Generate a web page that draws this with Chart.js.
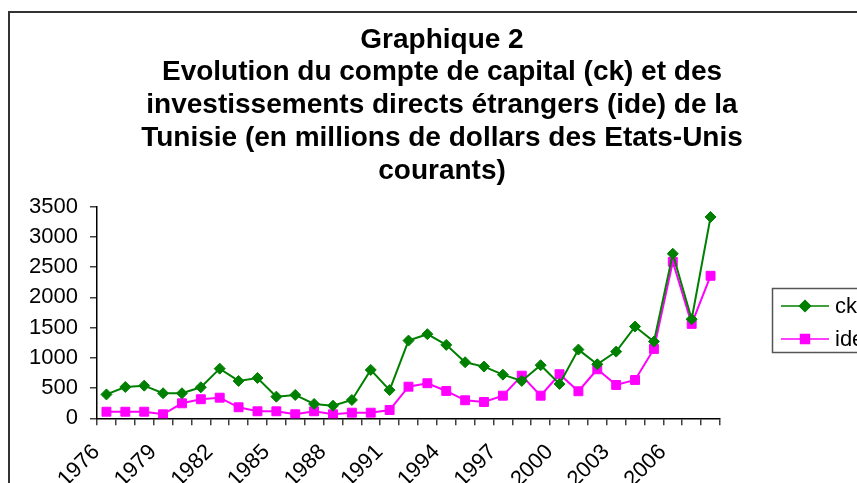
<!DOCTYPE html>
<html>
<head>
<meta charset="utf-8">
<script src="https://cdn.jsdelivr.net/npm/chart.js@4/dist/chart.umd.min.js"></script>
<style>
  html, body { margin: 0; padding: 0; background: #fff; overflow: hidden; }
  #wrap { position: relative; width: 857px; height: 483px; }
  #frame { position: absolute; left: 8px; top: 11px; width: 900px; height: 500px;
           border-left: 2px solid #333; border-top: 2px solid #333; pointer-events: none; }
  canvas { position: absolute; left: 0; top: 0; }
</style>
</head>
<body>
<div id="wrap">
  <canvas id="c" width="857" height="483"></canvas>
  <div id="frame"></div>
</div>
<script>
const years = [1976,1977,1978,1979,1980,1981,1982,1983,1984,1985,1986,1987,1988,1989,1990,1991,
               1992,1993,1994,1995,1996,1997,1998,1999,2000,2001,2002,2003,2004,2005,2006,2007,2008];
const ck = [395,518,540,414,414,513,821,618,667,358,386,237,209,303,800,466,
            1285,1391,1214,927,855,722,618,878,568,1136,894,1103,1517,1268,2721,1639,3329];
const ide = [109,109,109,66,248,315,341,182,116,116,66,116,66,93,93,137,
             523,580,452,298,270,374,705,374,729,447,811,551,634,1147,2588,1561,2357];
const titleLines = [
  "Graphique 2",
  "Evolution du compte de capital (ck) et des",
  "investissements directs étrangers (ide) de la",
  "Tunisie (en millions de dollars des Etats-Unis",
  "courants)"
];
const seriesNames = ["ck", "ide"];
const yTicks = [0,500,1000,1500,2000,2500,3000,3500];

const FONT = "'Liberation Sans', Arial, Helvetica, sans-serif";

const legendPlugin = {
  id: 'boxLegend',
  afterDraw(chart) {
    const ctx = chart.ctx;
    ctx.save();
    ctx.strokeStyle = '#555';
    ctx.lineWidth = 1.5;
    ctx.strokeRect(772.5, 288.5, 120, 64);
    chart.data.datasets.forEach((ds, i) => {
      const y = 306 + i * 33;
      ctx.strokeStyle = ds.borderColor;
      ctx.lineWidth = 1.5;
      ctx.beginPath(); ctx.moveTo(781, y); ctx.lineTo(829, y); ctx.stroke();
      Chart.helpers.drawPoint(ctx, {pointStyle: ds.pointStyle, radius: ds.pointRadius, borderWidth: 1}, 805, y);
      ctx.fillStyle = ds.borderColor;
      ctx.fill();
      ctx.fillStyle = '#000';
      ctx.font = "22px " + FONT;
      ctx.textBaseline = 'middle';
      ctx.textAlign = 'left';
      ctx.fillText(ds.label, 835, y + 1);
    });
    ctx.restore();
  }
};

new Chart(document.getElementById('c'), {
  type: 'line',
  data: {
    labels: years,
    datasets: [
      { label: seriesNames[0], data: ck, borderColor: '#008000', backgroundColor: '#008000',
        borderWidth: 2, pointStyle: 'rectRot', pointRadius: 5.5, pointBorderWidth: 1,
        pointBackgroundColor: '#008000', pointBorderColor: '#008000', tension: 0, fill: false },
      { label: seriesNames[1], data: ide, borderColor: '#FF00FF', backgroundColor: '#FF00FF',
        borderWidth: 2, pointStyle: 'rect', pointRadius: 6.3, pointBorderWidth: 1,
        pointBackgroundColor: '#FF00FF', pointBorderColor: '#FF00FF', tension: 0, fill: false }
    ]
  },
  options: {
    responsive: false,
    animation: false,
    devicePixelRatio: 1,
    layout: { padding: { left: 27, right: 0, top: 0, bottom: 0 } },
    plugins: {
      legend: { display: false },
      tooltip: { enabled: false },
      title: {
        display: true,
        text: titleLines,
        color: '#000',
        font: { family: FONT, size: 28, weight: 'bold', lineHeight: '32.75px' },
        padding: { top: 23.5, bottom: 19.4 }
      }
    },
    scales: {
      x: {
        type: 'category',
        offset: true,
        grid: { display: true, offset: true, drawOnChartArea: false, drawTicks: true, tickLength: 7, color: '#404040', lineWidth: 1.5 },
        border: { display: true, color: '#000', width: 1.5 },
        ticks: {
          autoSkip: false, maxRotation: 45, minRotation: 45, padding: 14, labelOffset: -10,
          color: '#000', font: { family: FONT, size: 22 },
          callback: function(v, i) { return (i % 3 === 0) ? String(years[i]) : ''; }
        },
        afterFit: s => { s.height = 64.7; }
      },
      y: {
        min: 0, max: 3500,
        afterBuildTicks: s => { s.ticks = yTicks.map(v => ({ value: v })); },
        grid: { display: true, drawOnChartArea: false, drawTicks: true, tickLength: 7, color: '#404040', lineWidth: 1.5 },
        border: { display: true, color: '#000', width: 1.5 },
        ticks: { padding: 12, color: '#000', font: { family: FONT, size: 22 },
                 callback: v => String(v) },
        afterFit: s => { s.width = 70; }
      },
      y2: {
        position: 'right',
        display: true,
        grid: { display: false, drawTicks: false },
        border: { display: false },
        ticks: { display: false },
        afterFit: s => { s.width = 137; }
      }
    }
  },
  plugins: [legendPlugin]
});
</script>
</body>
</html>
